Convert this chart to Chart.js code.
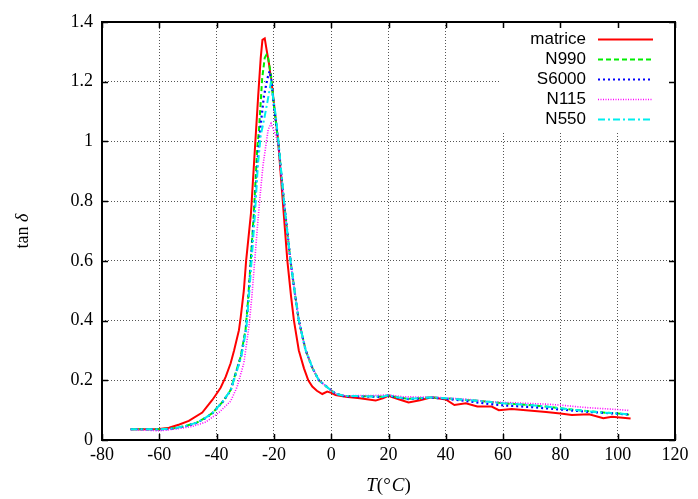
<!DOCTYPE html>
<html>
<head>
<meta charset="utf-8">
<script src="https://cdn.jsdelivr.net/npm/chart.js@4/dist/chart.umd.min.js"></script>
<style>
  html, body { margin: 0; padding: 0; background: #fff; }
  #wrap { width: 698px; height: 499px; }
</style>
</head>
<body>
<div id="wrap"><canvas id="tand"></canvas></div>
<script>
// tan delta vs temperature
const seriesNames = ["matrice", "N990", "S6000", "N115", "N550"];

const tMatrice = [-70, -65, -60, -56.6, -53, -49.7, -45, -41.5, -40, -38.6, -36.8, -35.1, -33.9, -32.2, -31.6, -30.5, -29.7, -28, -26.6, -25.5, -24.6, -24, -23.2, -22.6, -21.7, -20.6, -18.5, -16.9, -15.3, -14, -13, -11.3, -9.5, -8, -6.6, -5, -3.1, -1.4, 0, 1.5, 5, 10, 15.5, 18, 20, 23, 27, 31, 35, 40, 43, 47, 51, 56, 58.5, 63, 70, 75, 80, 84, 90, 95, 98, 104.5];
const vMatrice = [0.036, 0.036, 0.037, 0.041, 0.052, 0.064, 0.092, 0.134, 0.155, 0.175, 0.212, 0.257, 0.3, 0.368, 0.41, 0.5, 0.6, 0.76, 0.98, 1.15, 1.28, 1.34, 1.345, 1.31, 1.26, 1.18, 1.0, 0.8, 0.6, 0.48, 0.4, 0.3, 0.24, 0.2, 0.179, 0.165, 0.154, 0.162, 0.158, 0.151, 0.145, 0.14, 0.132, 0.14, 0.148, 0.138, 0.126, 0.133, 0.143, 0.136, 0.117, 0.123, 0.112, 0.112, 0.1, 0.104, 0.098, 0.094, 0.089, 0.084, 0.086, 0.073, 0.078, 0.072];

const tN990 = [-70, -65, -60, -55, -50.8, -47, -43.8, -41.5, -38, -35.1, -33.4, -31.6, -29.9, -29, -28.1, -27, -25.8, -25.2, -24.1, -23.2, -22.6, -22, -21, -20, -18.5, -16.5, -14.2, -12.8, -11.3, -8.9, -6.5, -4.3, -1.4, 1.5, 5, 10, 15, 18, 20, 23, 27, 31, 35, 40, 45, 50, 55, 60, 65, 70, 75, 80, 85, 90, 95, 100, 104];
const vN990 = [0.036, 0.036, 0.036, 0.039, 0.047, 0.058, 0.075, 0.09, 0.127, 0.167, 0.223, 0.279, 0.368, 0.47, 0.6, 0.76, 0.98, 1.04, 1.21, 1.28, 1.29, 1.28, 1.22, 1.12, 1.0, 0.8, 0.6, 0.5, 0.4, 0.3, 0.24, 0.2, 0.177, 0.155, 0.147, 0.147, 0.146, 0.145, 0.15, 0.143, 0.138, 0.14, 0.143, 0.14, 0.136, 0.132, 0.128, 0.123, 0.12, 0.116, 0.112, 0.106, 0.101, 0.096, 0.092, 0.089, 0.085];

const tS6000 = [-70, -65, -60, -55, -50.8, -47, -43.8, -41.5, -38, -35.1, -33.3, -31.5, -29.8, -28.9, -28, -26.8, -25.6, -24.8, -23.5, -22.3, -21.5, -20.8, -20, -18.5, -16.5, -14.2, -12.8, -11.3, -8.9, -6.5, -4.3, -1.4, 1.5, 5, 10, 15, 18, 20, 23, 27, 31, 35, 40, 45, 50, 55, 60, 65, 70, 75, 80, 85, 90, 95, 100, 104];
const vS6000 = [0.036, 0.036, 0.035, 0.038, 0.046, 0.057, 0.074, 0.089, 0.126, 0.166, 0.223, 0.279, 0.368, 0.47, 0.6, 0.76, 0.95, 1.04, 1.15, 1.21, 1.235, 1.2, 1.12, 1.0, 0.8, 0.6, 0.5, 0.4, 0.3, 0.24, 0.2, 0.177, 0.155, 0.146, 0.146, 0.145, 0.144, 0.149, 0.142, 0.137, 0.139, 0.142, 0.138, 0.133, 0.127, 0.121, 0.116, 0.113, 0.11, 0.106, 0.102, 0.098, 0.094, 0.091, 0.088, 0.085];

const tN115 = [-70, -65, -60, -55, -48.6, -43.8, -39.2, -35.1, -32.8, -30.5, -28.7, -27.7, -26.7, -25.7, -24.8, -23.8, -22.9, -22, -21, -20.2, -19.3, -18.5, -16.5, -14.2, -12.8, -11.3, -8.9, -6.5, -4.3, -1.4, 1.5, 5, 10, 15, 20, 25, 30, 35, 40, 45, 50, 54, 60, 65, 70, 75, 80, 85, 90, 95, 100, 104];
const vN115 = [0.035, 0.033, 0.031, 0.036, 0.045, 0.06, 0.092, 0.13, 0.179, 0.257, 0.38, 0.48, 0.6, 0.72, 0.82, 0.92, 0.98, 1.04, 1.06, 1.04, 1.02, 0.99, 0.8, 0.6, 0.5, 0.4, 0.3, 0.24, 0.2, 0.177, 0.155, 0.148, 0.149, 0.149, 0.151, 0.145, 0.144, 0.144, 0.141, 0.138, 0.134, 0.129, 0.126, 0.124, 0.122, 0.12, 0.117, 0.112, 0.108, 0.105, 0.102, 0.099];

const tN550 = [-70, -65, -60, -55, -50.8, -47, -43.8, -41.5, -38, -35.1, -33.2, -31.4, -29.7, -28.8, -27.8, -26.6, -25.6, -24.6, -23.5, -22.3, -21.1, -20.3, -19.4, -18.5, -16.5, -14.2, -12.8, -11.3, -8.9, -6.5, -4.3, -1.4, 1.5, 5, 10, 15, 18, 20, 23, 27, 31, 35, 40, 45, 50, 55, 60, 65, 70, 75, 80, 85, 90, 95, 100, 104];
const vN550 = [0.036, 0.036, 0.036, 0.039, 0.047, 0.058, 0.075, 0.09, 0.127, 0.167, 0.223, 0.279, 0.368, 0.47, 0.6, 0.76, 0.92, 1.02, 1.07, 1.13, 1.195, 1.15, 1.09, 1.01, 0.8, 0.6, 0.5, 0.4, 0.3, 0.24, 0.2, 0.177, 0.155, 0.147, 0.147, 0.146, 0.145, 0.15, 0.143, 0.138, 0.14, 0.143, 0.14, 0.136, 0.132, 0.128, 0.123, 0.12, 0.116, 0.112, 0.106, 0.101, 0.096, 0.092, 0.089, 0.086];

const xTicks = [-80, -60, -40, -20, 0, 20, 40, 60, 80, 100, 120];
const yTicks = [0, 0.2, 0.4, 0.6, 0.8, 1, 1.2, 1.4];

const lineColors = ["#ff0000", "#00ee00", "#0000ff", "#ff00ff", "#00eeee"];
const lineDashes = [[], [5, 3], [2, 3], [1, 1.5], [7, 3, 2, 3]];
const lineWidths = [2, 2, 2.2, 1.6, 2];

function pairs(ts, vs) {
  return ts.map((t, i) => ({ x: t, y: vs[i] }));
}

const allT = [tMatrice, tN990, tS6000, tN115, tN550];
const allV = [vMatrice, vN990, vS6000, vN115, vN550];

const datasets = seriesNames.map((name, i) => ({
  label: name,
  data: pairs(allT[i], allV[i]),
  showLine: true,
  borderColor: lineColors[i],
  backgroundColor: lineColors[i],
  borderWidth: lineWidths[i],
  borderDash: lineDashes[i],
  pointRadius: 0,
  tension: 0,
  fill: false,
  order: seriesNames.length - i,
}));

const serif = "'Liberation Serif', 'DejaVu Serif', serif";
const sans = "'Liberation Sans', Arial, sans-serif";

// gnuplot look: frame, inward ticks, legend box, axis titles
const gnuplotLook = {
  id: "gnuplotLook",
  beforeDatasetsDraw(chart) {
    const { ctx, chartArea: a } = chart;
    ctx.save();
    ctx.fillStyle = "#fff";
    ctx.fillRect(500, a.top + 1, a.right - 501, 108);
    ctx.restore();
  },
  afterDraw(chart) {
    const { ctx, chartArea: a, scales } = chart;
    ctx.save();
    ctx.strokeStyle = "#000";
    ctx.lineWidth = 2;
    ctx.strokeRect(a.left, a.top, a.right - a.left, a.bottom - a.top);

    // inward ticks on all four sides
    ctx.lineWidth = 1.5;
    const tl = 6;
    ctx.beginPath();
    xTicks.forEach((v) => {
      const px = Math.round(scales.x.getPixelForValue(v)) + 0.5;
      ctx.moveTo(px, a.bottom); ctx.lineTo(px, a.bottom - tl);
      ctx.moveTo(px, a.top); ctx.lineTo(px, a.top + tl);
    });
    yTicks.forEach((v) => {
      const py = Math.round(scales.y.getPixelForValue(v)) + 0.5;
      ctx.moveTo(a.left, py); ctx.lineTo(a.left + tl, py);
      ctx.moveTo(a.right, py); ctx.lineTo(a.right - tl, py);
    });
    ctx.stroke();

    // legend
    ctx.font = "17px " + sans;
    ctx.textBaseline = "middle";
    ctx.textAlign = "right";
    chart.data.datasets.forEach((ds, i) => {
      const y = a.top + 17.5 + i * 20;
      ctx.fillStyle = "#000";
      ctx.fillText(ds.label, 586, y);
      ctx.strokeStyle = ds.borderColor;
      ctx.lineWidth = ds.borderWidth;
      ctx.setLineDash(ds.borderDash);
      ctx.beginPath();
      ctx.moveTo(598, y);
      ctx.lineTo(653, y);
      ctx.stroke();
    });
    ctx.setLineDash([]);

    // y title: tan δ
    ctx.fillStyle = "#000";
    ctx.textAlign = "left";
    ctx.textBaseline = "middle";
    ctx.translate(23, (a.top + a.bottom) / 2);
    ctx.rotate(-Math.PI / 2);
    ctx.font = "18px " + serif;
    const w1 = ctx.measureText("tan ").width;
    ctx.font = "italic 18px " + serif;
    const w2 = ctx.measureText("δ").width;
    let x0 = -(w1 + w2) / 2;
    ctx.font = "18px " + serif;
    ctx.fillText("tan ", x0, 0);
    ctx.font = "italic 18px " + serif;
    ctx.fillText("δ", x0 + w1, 0);
    ctx.setTransform(1, 0, 0, 1, 0, 0);

    // x title: T(°C)
    const parts = [["T", true], ["(", false], ["°", false], ["C", true], [")", false]];
    let total = 0;
    parts.forEach((p) => {
      ctx.font = (p[1] ? "italic " : "") + "19px " + serif;
      total += ctx.measureText(p[0]).width + (p[0] === "°" ? 1 : 0);
    });
    let xx = (a.left + a.right) / 2 - total / 2;
    parts.forEach((p) => {
      ctx.font = (p[1] ? "italic " : "") + "19px " + serif;
      ctx.fillText(p[0], xx, 486);
      xx += ctx.measureText(p[0]).width + (p[0] === "°" ? 1 : 0);
    });
    ctx.restore();
  },
};

new Chart(document.getElementById("tand"), {
  type: "scatter",
  data: { datasets: datasets },
  options: {
    responsive: true,
    maintainAspectRatio: false,
    animation: false,
    events: [],
    layout: { padding: { top: 22, right: 23, bottom: 0, left: 0 } },
    plugins: {
      legend: { display: false },
      tooltip: { enabled: false },
    },
    scales: {
      x: {
        type: "linear",
        min: -80,
        max: 120,
        afterBuildTicks: (scale) => { scale.ticks = xTicks.map((v) => ({ value: v })); },
        afterFit: (scale) => { scale.height = 59; },
        ticks: { color: "#000", font: { family: serif, size: 18 }, padding: 4, maxRotation: 0 },
        grid: { color: "#555", lineWidth: 1, drawTicks: false },
        border: { display: false, dash: [1, 2] },
      },
      y: {
        type: "linear",
        min: 0,
        max: 1.4,
        afterBuildTicks: (scale) => { scale.ticks = yTicks.map((v) => ({ value: v })); },
        afterFit: (scale) => { scale.width = 102; },
        ticks: {
          color: "#000",
          font: { family: serif, size: 18 },
          padding: 9,
          callback: (v) => String(Math.round(v * 10) / 10),
        },
        grid: { color: "#555", lineWidth: 1, drawTicks: false },
        border: { display: false, dash: [1, 2] },
      },
    },
  },
  plugins: [gnuplotLook],
});
</script>
</body>
</html>
